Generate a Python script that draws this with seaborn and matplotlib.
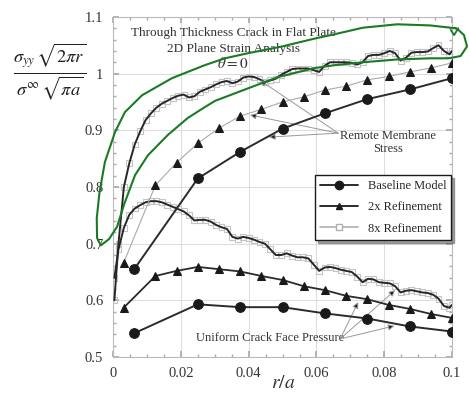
import numpy as np
import matplotlib
matplotlib.use("Agg")
import matplotlib.pyplot as plt
from matplotlib.lines import Line2D
from matplotlib.ticker import MultipleLocator, FuncFormatter
import seaborn as sns

# ---- data ----
r_base = [0.00625, 0.025, 0.0375, 0.05, 0.0625, 0.075, 0.0875, 0.1]
base_remote = [0.655, 0.815, 0.862, 0.903, 0.930, 0.955, 0.972, 0.992]
base_crack = [0.542, 0.593, 0.588, 0.588, 0.577, 0.568, 0.554, 0.545]

r_2x = [0.003125, 0.0125, 0.01875, 0.025, 0.03125, 0.0375, 0.04375, 0.05,
        0.05625, 0.0625, 0.06875, 0.075, 0.08125, 0.0875, 0.09375, 0.1]
ref2_remote = [0.666, 0.803, 0.843, 0.877, 0.904, 0.925, 0.937, 0.950,
               0.959, 0.971, 0.978, 0.989, 0.995, 1.003, 1.010, 1.019]
ref2_crack = [0.587, 0.643, 0.652, 0.659, 0.655, 0.651, 0.643, 0.636,
              0.625, 0.618, 0.608, 0.602, 0.592, 0.585, 0.576, 0.569]

r_8x = [0.0004, 0.0016, 0.0032, 0.0048, 0.0064, 0.0080, 0.0096, 0.0112, 0.0128,
        0.0144, 0.0160, 0.0176, 0.0192, 0.0208, 0.0224, 0.0240, 0.0256, 0.0272,
        0.0288, 0.0304, 0.0320, 0.0336, 0.0352, 0.0368, 0.0384, 0.0400, 0.0416,
        0.0432, 0.0448, 0.0464, 0.0480, 0.0496, 0.0512, 0.0528, 0.0544, 0.0560,
        0.0576, 0.0592, 0.0608, 0.0624, 0.0640, 0.0656, 0.0672, 0.0688, 0.0704,
        0.0720, 0.0736, 0.0752, 0.0768, 0.0784, 0.0800, 0.0816, 0.0832, 0.0848,
        0.0864, 0.0880, 0.0896, 0.0912, 0.0928, 0.0944, 0.0960, 0.0976, 0.0992,
        0.1000]
ref8_remote = [0.600, 0.700, 0.800, 0.842, 0.875, 0.898, 0.918, 0.930, 0.940,
               0.947, 0.952, 0.957, 0.961, 0.963, 0.958, 0.960, 0.968, 0.972,
               0.976, 0.981, 0.985, 0.987, 0.983, 0.986, 0.993, 0.995, 0.994,
               0.990, 0.985, 0.988, 0.991, 0.998, 1.003, 1.008, 1.009, 1.009,
               1.009, 1.006, 1.003, 1.014, 1.020, 1.020, 1.020, 1.020, 1.019,
               1.016, 1.020, 1.031, 1.033, 1.033, 1.036, 1.040, 1.036, 1.023,
               1.028, 1.037, 1.038, 1.038, 1.039, 1.045, 1.050, 1.040, 1.034,
               1.040]
ref8_crack = [0.640, 0.690, 0.728, 0.751, 0.762, 0.768, 0.773, 0.775, 0.775,
              0.773, 0.769, 0.765, 0.761, 0.757, 0.750, 0.741, 0.742, 0.742,
              0.739, 0.733, 0.729, 0.726, 0.712, 0.709, 0.712, 0.710, 0.707,
              0.703, 0.700, 0.690, 0.680, 0.680, 0.683, 0.679, 0.676, 0.676,
              0.674, 0.663, 0.652, 0.658, 0.659, 0.657, 0.654, 0.652, 0.650,
              0.642, 0.632, 0.638, 0.637, 0.632, 0.631, 0.630, 0.625, 0.614,
              0.617, 0.618, 0.616, 0.614, 0.613, 0.610, 0.603, 0.590, 0.587,
              0.592]

# hand drawn green highlight around the 8x remote curve
highlight_r = [0.1010, 0.0935, 0.0838, 0.0737, 0.0650, 0.0596, 0.0499, 0.0398,
               0.0330, 0.0271, 0.0174, 0.0086, 0.0035, 0.0006, -0.0024, -0.0040,
               -0.0048, -0.0047, -0.0036, -0.0012, 0.0012, 0.0033, 0.0065, 0.0103,
               0.0162, 0.0221, 0.0271, 0.0301, 0.0398, 0.0487, 0.0596, 0.0655,
               0.0737, 0.0838, 0.0935, 0.0990, 0.1025, 0.1044, 0.1035, 0.1015]
highlight_v = [1.080, 1.085, 1.087, 1.081, 1.069, 1.062, 1.048, 1.036,
               1.027, 1.015, 0.992, 0.962, 0.932, 0.897, 0.844, 0.790,
               0.745, 0.710, 0.697, 0.708, 0.730, 0.770, 0.821, 0.856,
               0.892, 0.922, 0.941, 0.952, 0.974, 0.994, 1.010, 1.015,
               1.020, 1.025, 1.027, 1.027, 1.031, 1.048, 1.068, 1.079]
hook_r = [0.0996, 0.1006, 0.1018]
hook_v = [1.077, 1.068, 1.080]

remote_targets = [(0.0434, 0.988), (0.0404, 0.927), (0.046, 0.888)]
crack_targets = [(0.0723, 0.597), (0.0832, 0.618), (0.083, 0.555)]

sns.set_theme(style="ticks")
plt.rcParams['font.family'] = ['Liberation Serif', 'DejaVu Serif']
plt.rcParams['mathtext.fontset'] = 'stix'

fig = plt.figure(figsize=(4.69, 4.03), dpi=100)
ax = fig.add_axes([0.241, 0.114, 0.723, 0.844])

dark = '#2b2b2b'
# baseline model
for yy in (base_remote, base_crack):
    sns.lineplot(x=r_base, y=yy, ax=ax, color=dark, lw=1.4, marker='o',
                 markersize=7, markeredgecolor='k', markerfacecolor='k',
                 estimator=None, sort=False, legend=False, zorder=4)
# 2x refinement
sns.lineplot(x=r_2x, y=ref2_remote, ax=ax, color='#aaaaaa', lw=0.8, marker='^',
             markersize=6, markeredgecolor='k', markerfacecolor='k',
             estimator=None, sort=False, legend=False, zorder=4)
sns.lineplot(x=r_2x, y=ref2_crack, ax=ax, color=dark, lw=1.3, marker='^',
             markersize=6, markeredgecolor='k', markerfacecolor='k',
             estimator=None, sort=False, legend=False, zorder=4)
# 8x refinement: faint square nodes under a dark line
for yy in (ref8_remote, ref8_crack):
    sns.scatterplot(x=r_8x, y=yy, ax=ax, marker='s', s=18, facecolor='none',
                    edgecolor='#c4c4c4', linewidth=0.8, legend=False, zorder=2)
    sns.lineplot(x=r_8x, y=yy, ax=ax, color='#262626', lw=1.4,
                 estimator=None, sort=False, legend=False, zorder=3)

ax.set_xlim(0, 0.1)
ax.set_ylim(0.5, 1.1)
ax.xaxis.set_major_locator(MultipleLocator(0.02))
ax.xaxis.set_minor_locator(MultipleLocator(0.005))
ax.yaxis.set_major_locator(MultipleLocator(0.1))
ax.yaxis.set_minor_locator(MultipleLocator(0.02))
fmt = FuncFormatter(lambda v, p: '%g' % round(v, 3))
ax.xaxis.set_major_formatter(fmt)
ax.yaxis.set_major_formatter(fmt)
ax.tick_params(which='both', direction='in', top=True, right=True,
               color='#aaaaaa', labelsize=10.5, labelcolor='#333333')
ax.tick_params(which='major', length=4, pad=7)
ax.tick_params(which='minor', length=2)
ax.grid(True, which='major', color='#dddddd', lw=0.8)
for s in ax.spines.values():
    s.set_color('#bbbbbb')
    s.set_linewidth(0.8)

# texts
ax.text(0.0354, 1.072, 'Through Thickness Crack in Flat Plate', ha='center',
        va='center', fontsize=9.5, color='#333333')
ax.text(0.0354, 1.043, '2D Plane Strain Analysis', ha='center', va='center',
        fontsize=9.5, color='#333333')
ax.text(0.0354, 1.018, r'$\theta = 0$', ha='center', va='center',
        fontsize=11, color='#333333')
ax.text(0.081, 0.879, 'Remote Membrane\nStress', ha='center', va='center',
        fontsize=9, color='#333333', linespacing=1.1)
ax.text(0.0463, 0.533, 'Uniform Crack Face Pressure', ha='center',
        va='center', fontsize=9, color='#333333')

for t in remote_targets:
    ax.annotate('', xy=t, xytext=(0.0664, 0.895),
                arrowprops=dict(arrowstyle='-|>', color='#999999', fc='k',
                                lw=0.7, mutation_scale=9, shrinkA=0, shrinkB=0))
for t in crack_targets:
    ax.annotate('', xy=t, xytext=(0.067, 0.532),
                arrowprops=dict(arrowstyle='-|>', color='#999999', fc='k',
                                lw=0.7, mutation_scale=9, shrinkA=0, shrinkB=0))

handles = [
    Line2D([], [], color='k', lw=1.3, marker='o', markersize=6),
    Line2D([], [], color='k', lw=1.3, marker='^', markersize=5),
    Line2D([], [], color='#b0b0b0', lw=1.2, marker='s', markersize=4.5,
           markerfacecolor='white', markeredgecolor='#b0b0b0'),
]
leg = ax.legend(handles, ['Baseline Model', '2x Refinement', '8x Refinement'],
                loc='upper left', bbox_to_anchor=(0.596, 0.535), borderaxespad=0,
                fontsize=9, frameon=True, fancybox=False, shadow=True,
                edgecolor='k', handlelength=3, labelspacing=0.75)
leg.get_frame().set_linewidth(1.0)
leg.set_zorder(6)

# green highlight loop
ax.plot(highlight_r + highlight_r[:1], highlight_v + highlight_v[:1],
        color='#1b7a25', lw=1.5, clip_on=False, zorder=7)
ax.plot(hook_r, hook_v, color='#1b7a25', lw=1.3, clip_on=False, zorder=7)

ax.set_xlabel('')
ax.set_ylabel('')
fig.text(283 / 469, 1 - 383 / 403, r'$r/a$', ha='center', va='center',
         fontsize=14, color='#333333')
fig.text(50 / 469, 1 - 72 / 403,
         r'$\frac{\sigma_{yy}\,\sqrt{2\pi r}}{\sigma^{\infty}\,\sqrt{\pi a}}$',
         ha='center', va='center', fontsize=19, color='#222222')

fig.savefig('out.png', dpi=100)
